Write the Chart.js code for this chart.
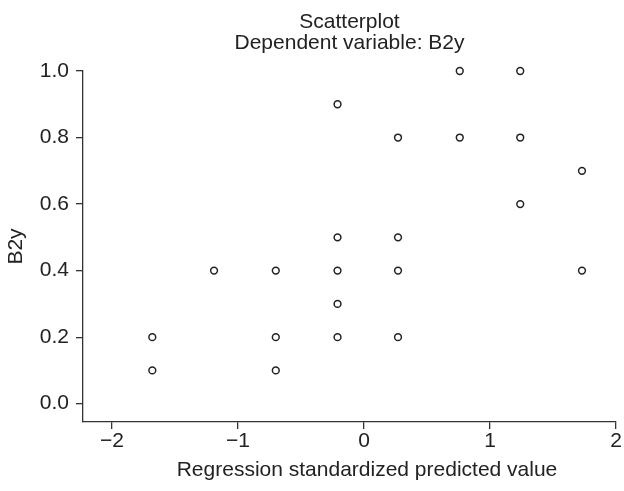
<!DOCTYPE html>
<html>
<head>
<meta charset="utf-8">
<script src="https://cdn.jsdelivr.net/npm/chart.js@4.4.1/dist/chart.umd.min.js"></script>
<style>
  html, body { margin: 0; padding: 0; background: #fff; }
</style>
</head>
<body>
<canvas id="scatter-chart" width="624" height="491"></canvas>
<script>
// data
const predicted = [-1.68, -1.68, -1.19, -0.70, -0.70, -0.70, -0.21, -0.21, -0.21, -0.21, -0.21,
  0.27, 0.27, 0.27, 0.27, 0.76, 0.76, 1.24, 1.24, 1.24, 1.73, 1.73];
const b2y = [0.2, 0.1, 0.4, 0.4, 0.2, 0.1, 0.9, 0.5, 0.4, 0.3, 0.2,
  0.8, 0.5, 0.4, 0.2, 1.0, 0.8, 1.0, 0.8, 0.6, 0.7, 0.4];
const xTicks = [-2, -1, 0, 1, 2];
const yTicks = [0.0, 0.2, 0.4, 0.6, 0.8, 1.0];
const titleLines = ["Scatterplot", "Dependent variable: B2y"];
const xTitle = "Regression standardized predicted value";
const yTitle = "B2y";

const FONT = "'Liberation Sans', Arial, sans-serif";
const SIZE = 21;
const INK = "#222";

// plugin untuk judul atas dan judul sumbu x
const extraText = {
  id: "extraText",
  afterDraw(chart) {
    const ctx = chart.ctx;
    const area = chart.chartArea;
    ctx.save();
    ctx.fillStyle = INK;
    ctx.textAlign = "center";
    ctx.textBaseline = "alphabetic";
    ctx.font = SIZE + "px " + FONT;
    const midArea = (area.left + area.right) / 2;
    ctx.fillText(titleLines[0], midArea, 28);
    ctx.fillText(titleLines[1], midArea, 49);
    // judul sumbu x dipusatkan di nilai 0
    ctx.fillText(xTitle, chart.scales.x.getPixelForValue(0) + 3, 476);
    ctx.restore();
  },
};

const points = predicted.map((x, i) => ({ x: x, y: b2y[i] }));

new Chart(document.getElementById("scatter-chart").getContext("2d"), {
  type: "scatter",
  data: {
    datasets: [{
      data: points,
      clip: false,
      pointStyle: "circle",
      pointRadius: 3.4,
      pointHoverRadius: 3.4,
      borderWidth: 1.5,
      borderColor: INK,
      backgroundColor: "#fff",
    }],
  },
  options: {
    responsive: false,
    animation: false,
    devicePixelRatio: 1,
    layout: { padding: { top: 71, right: 8, left: 0, bottom: 0 } },
    plugins: {
      legend: { display: false },
      tooltip: { enabled: false },
    },
    scales: {
      x: {
        type: "linear",
        min: -2.23,
        max: 2,
        afterBuildTicks: (scale) => { scale.ticks = xTicks.map(v => ({ value: v })); },
        afterFit: (scale) => { scale.height = 69; },
        border: { display: true, color: "#333", width: 1.3 },
        grid: { display: true, drawOnChartArea: false, drawTicks: true, tickLength: 7, color: "#333", lineWidth: 1.3 },
        ticks: {
          color: INK,
          padding: 0,
          font: { family: FONT, size: SIZE },
          callback: (v) => (v < 0 ? "\u2212" + Math.abs(v) : String(v)),
        },
      },
      y: {
        type: "linear",
        min: -0.055,
        max: 1.0,
        afterBuildTicks: (scale) => { scale.ticks = yTicks.map(v => ({ value: v })); },
        afterFit: (scale) => { scale.width = 83; },
        border: { display: true, color: "#333", width: 1.3 },
        grid: { display: true, drawOnChartArea: false, drawTicks: true, tickLength: 7, color: "#333", lineWidth: 1.3 },
        title: {
          display: true,
          text: yTitle,
          color: INK,
          padding: { top: 4, bottom: 0 },
          font: { family: FONT, size: SIZE },
        },
        ticks: {
          color: INK,
          padding: 7,
          font: { family: FONT, size: SIZE },
          callback: (v) => v.toFixed(1),
        },
      },
    },
  },
  plugins: [extraText],
});
</script>
</body>
</html>
